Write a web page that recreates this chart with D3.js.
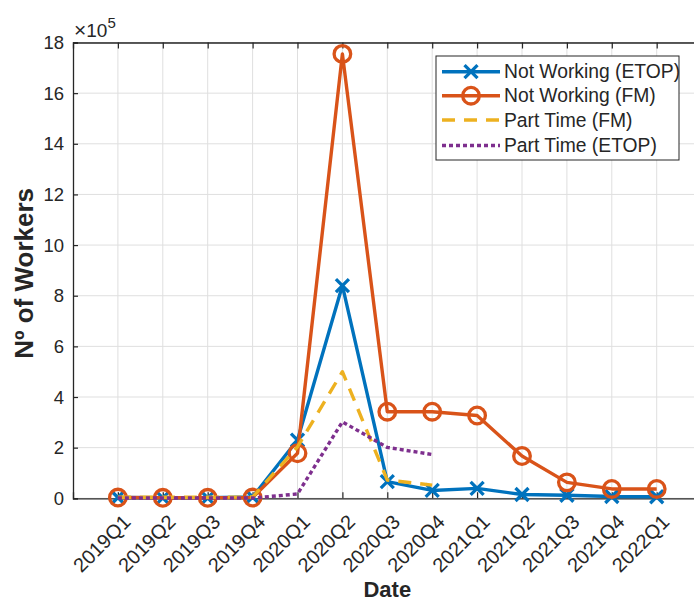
<!DOCTYPE html>
<html>
<head>
<meta charset="utf-8">
<script src="https://cdn.jsdelivr.net/npm/d3@7"></script>
<style>
  body { margin: 0; background: #fff; }
  text { font-family: "Liberation Sans", Arial, Helvetica, sans-serif; fill: #262626; }
</style>
</head>
<body>
<div id="chart"></div>
<script>
const quarters = ["2019Q1", "2019Q2", "2019Q3", "2019Q4", "2020Q1", "2020Q2", "2020Q3",
  "2020Q4", "2021Q1", "2021Q2", "2021Q3", "2021Q4", "2022Q1"];

// values in workers (axis shown in units of 1e5)
const notWorkingEtop = [3000, 2000, 2000, 5000, 230000, 840000, 66000, 31000, 39000, 15000, 12000, 7000, 6000];
const notWorkingFm = [3000, 2000, 2000, 3000, 178000, 1755000, 342000, 342000, 327000, 167000, 63000, 37000, 37000];
const partTimeFm = [4000, 4000, 4000, 5000, 203000, 500000, 72000, 52000];
const partTimeEtop = [1000, 1000, 1000, 1000, 17000, 302000, 201000, 173000];

const yTicks = [0, 2, 4, 6, 8, 10, 12, 14, 16, 18];
const seriesNames = ["Not Working (ETOP)", "Not Working (FM)", "Part Time (FM)", "Part Time (ETOP)"];

const width = 694, height = 601;
const plotLeft = 73, plotTop = 42.5, plotBottom = 498.3, plotRight = 73 + 14 * 44.9;

const svg = d3.select("#chart").append("svg")
  .attr("width", width)
  .attr("height", height);

const x = d3.scaleLinear().domain([0, 14]).range([plotLeft, plotRight]);
const y = d3.scaleLinear().domain([0, 18e5]).range([plotBottom, plotTop]);

const axisColor = "#262626";
const gridColor = "#dfdfdf";

// grid
const grid = svg.append("g");
d3.range(1, 14).forEach(i => {
  grid.append("line")
    .attr("x1", x(i)).attr("x2", x(i))
    .attr("y1", plotTop).attr("y2", plotBottom)
    .attr("stroke", gridColor).attr("stroke-width", 1);
});
yTicks.forEach(t => {
  grid.append("line")
    .attr("x1", plotLeft).attr("x2", plotRight)
    .attr("y1", y(t * 1e5)).attr("y2", y(t * 1e5))
    .attr("stroke", gridColor).attr("stroke-width", 1);
});

// axes with inward ticks
const xAxis = d3.axisBottom(x).tickValues(d3.range(1, 14)).tickSize(-6).tickFormat("");
const xAxisTop = d3.axisTop(x).tickValues(d3.range(1, 14)).tickSize(-6).tickFormat("");
const yAxis = d3.axisLeft(y).tickValues(yTicks.map(t => t * 1e5)).tickSize(-5).tickFormat("");

[svg.append("g").attr("transform", `translate(0,${plotBottom})`).call(xAxis),
 svg.append("g").attr("transform", `translate(0,${plotTop})`).call(xAxisTop),
 svg.append("g").attr("transform", `translate(${plotLeft},0)`).call(yAxis)].forEach(g => {
  g.select(".domain").attr("stroke", axisColor).attr("stroke-width", 1.3);
  g.selectAll(".tick line").attr("stroke", axisColor).attr("stroke-width", 1.2);
});

// y tick labels
svg.append("g").selectAll("text")
  .data(yTicks)
  .enter().append("text")
  .attr("x", plotLeft - 9)
  .attr("y", d => y(d * 1e5))
  .attr("dy", "0.36em")
  .attr("text-anchor", "end")
  .style("font-size", "18.5px")
  .text(d => d);

// exponent label
const expo = svg.append("text")
  .attr("x", plotLeft + 1)
  .attr("y", 37)
  .style("font-size", "19px");
expo.append("tspan").style("font-size", "21px").text("\u00d7");
expo.append("tspan").text("10");
expo.append("tspan").attr("dy", -9).style("font-size", "15px").text("5");

// x tick labels
svg.append("g").selectAll("text")
  .data(quarters)
  .enter().append("text")
  .attr("transform", (d, i) => `translate(${x(i + 1) + 9},${plotBottom + 20}) rotate(-45)`)
  .attr("text-anchor", "end")
  .attr("dy", "0.35em")
  .style("font-size", "20px")
  .text(d => d);

// axis titles
svg.append("text")
  .attr("x", (plotLeft + plotRight) / 2)
  .attr("y", 597)
  .attr("text-anchor", "middle")
  .style("font-size", "22px")
  .style("font-weight", "bold")
  .text("Date");

svg.append("text")
  .attr("transform", `translate(33,${(plotTop + plotBottom) / 2 + 3}) rotate(-90)`)
  .attr("text-anchor", "middle")
  .style("font-size", "26px")
  .style("font-weight", "bold")
  .text("N\u00ba of Workers");

// series
const series = [
  { name: seriesNames[0], values: notWorkingEtop, color: "#0072BD", dash: null, marker: "x" },
  { name: seriesNames[1], values: notWorkingFm, color: "#D95319", dash: null, marker: "o" },
  { name: seriesNames[2], values: partTimeFm, color: "#EDB120", dash: "13,9", marker: null },
  { name: seriesNames[3], values: partTimeEtop, color: "#7E2F8E", dash: "4,3", marker: null }
];

const line = d3.line()
  .x((d, i) => x(i + 1))
  .y(d => y(d));

function drawMarker(g, type, cx, cy, color) {
  if (type === "o") {
    g.append("circle")
      .attr("cx", cx).attr("cy", cy).attr("r", 8.3)
      .attr("fill", "none").attr("stroke", color).attr("stroke-width", 3.3);
  } else if (type === "x") {
    const s = 6.5;
    g.append("path")
      .attr("d", `M${cx - s},${cy - s}L${cx + s},${cy + s}M${cx - s},${cy + s}L${cx + s},${cy - s}`)
      .attr("stroke", color).attr("stroke-width", 3.3).attr("fill", "none");
  }
}

series.forEach(s => {
  const g = svg.append("g");
  g.append("path")
    .attr("d", line(s.values))
    .attr("fill", "none")
    .attr("stroke", s.color)
    .attr("stroke-width", 3.4)
    .attr("stroke-dasharray", s.dash)
    .attr("stroke-linejoin", "round");
  if (s.marker) {
    s.values.forEach((v, i) => drawMarker(g, s.marker, x(i + 1), y(v), s.color));
  }
});

// legend
const lg = svg.append("g");
lg.append("rect")
  .attr("x", 436).attr("y", 56)
  .attr("width", 243).attr("height", 104)
  .attr("fill", "#fff")
  .attr("stroke", axisColor).attr("stroke-width", 1);

const rowY = [71.7, 95.7, 120, 145.5];
series.forEach((s, i) => {
  lg.append("line")
    .attr("x1", 442).attr("x2", 500)
    .attr("y1", rowY[i]).attr("y2", rowY[i])
    .attr("stroke", s.color).attr("stroke-width", 3.4)
    .attr("stroke-dasharray", s.dash);
  if (s.marker) drawMarker(lg, s.marker, 471, rowY[i], s.color);
  lg.append("text")
    .attr("x", 504).attr("y", rowY[i])
    .attr("dy", "0.35em")
    .style("font-size", "19.3px")
    .text(s.name);
});
</script>
</body>
</html>
